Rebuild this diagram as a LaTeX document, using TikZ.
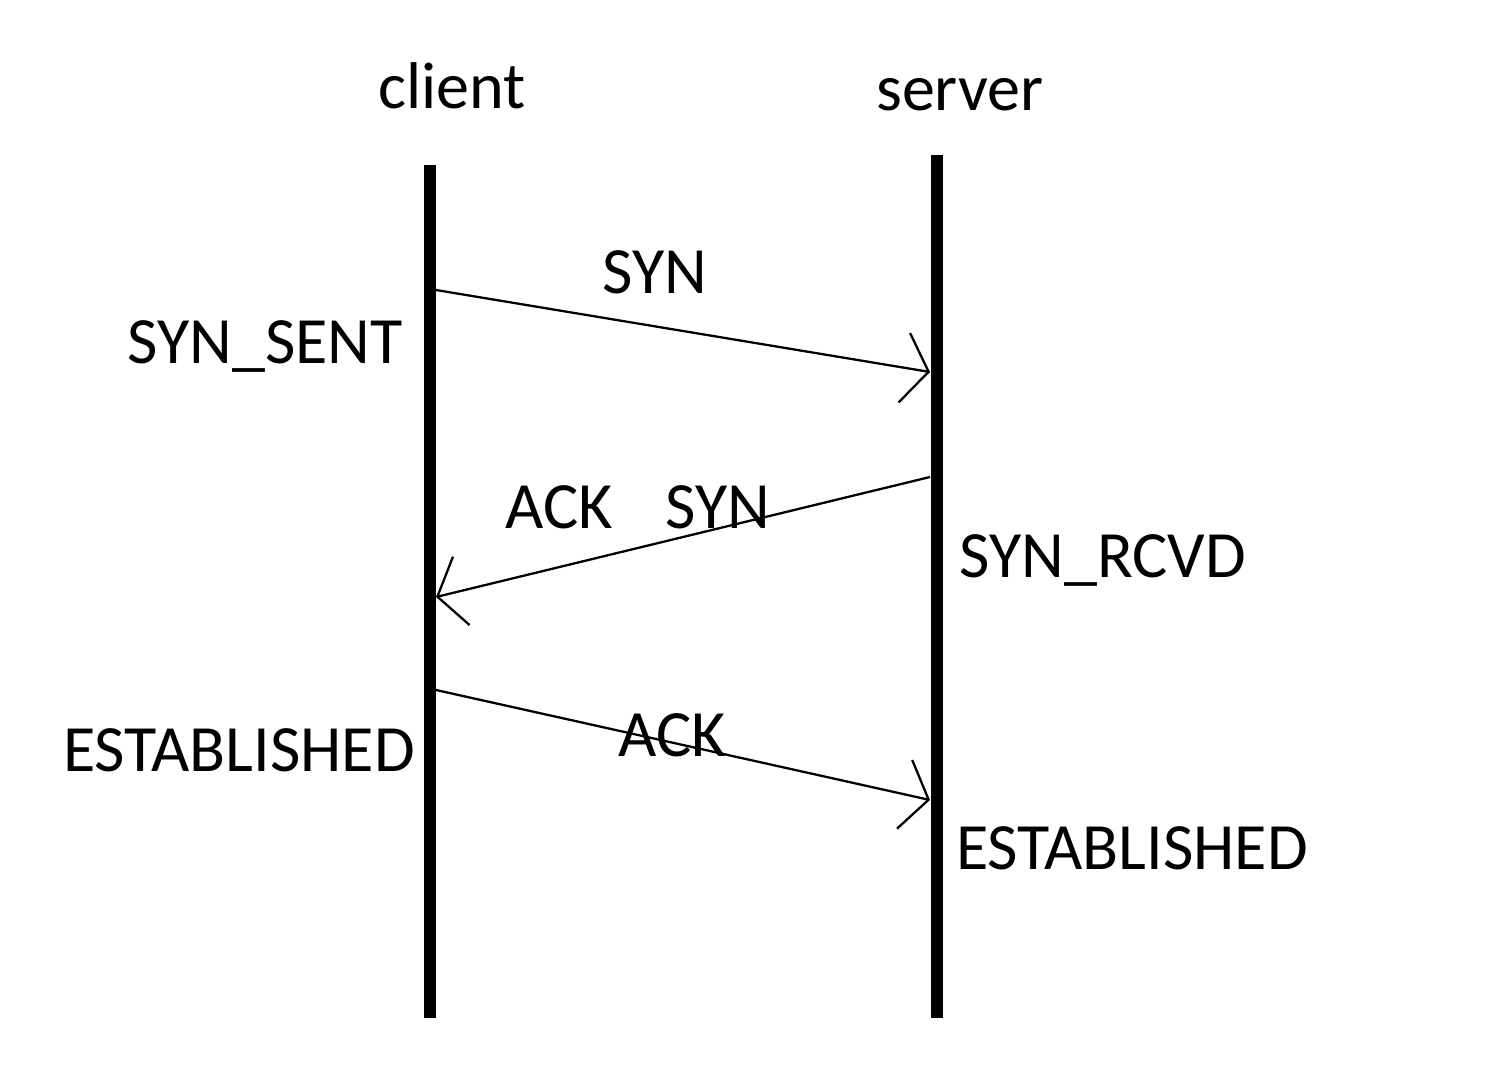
\documentclass[tikz,border=0pt]{standalone}
\usepackage{fontspec}
\setmainfont{Carlito}
\usetikzlibrary{arrows.meta}

\begin{document}
\begin{tikzpicture}[x=0.01cm,y=-0.01cm,>={Straight Barb[length=7pt,width=20pt]},
  every node/.style={font=\fontsize{18.8}{22}\selectfont,anchor=base,inner sep=0pt},
  life/.style={line width=3.4pt},
  msg/.style={->,line width=0.65pt}]
\useasboundingbox (0,0) rectangle (1490,1078);

% the two parties
\node (client) at (452,108) {client};
\node (server) at (960,110) {server};
\coordinate (ctop) at (430,165);
\coordinate (cbot) at (430,1018);
\coordinate (stop) at (937,155);
\coordinate (sbot) at (937,1018);
\draw[life] (ctop) -- (cbot);
\draw[life] (stop) -- (sbot);

% where the messages leave and arrive
\coordinate (c1) at (436,290);
\coordinate (s1) at (930,372);
\coordinate (s2) at (930,477);
\coordinate (c2) at (436,597);
\coordinate (c3) at (436,690);
\coordinate (s3) at (930,800);

\draw[msg] (c1) -- (s1);
\draw[msg] (s2) -- (c2);
\draw[msg] (c3) -- (s3);

% labels
\node (syn)      at (655,293) {SYN};
\node (synsent)  at (265,363) {SYN\_SENT};
\node (ack)      at (559,528) {ACK};
\node (syn2)     at (718,528) {SYN};
\node (synrcvd)  at (1103,577) {SYN\_RCVD};
\node (estc)     at (239,771) {ESTABLISHED};
\node (ack2)     at (672,756) {ACK};
\node (ests)     at (1132,869) {ESTABLISHED};

\end{tikzpicture}
\end{document}
